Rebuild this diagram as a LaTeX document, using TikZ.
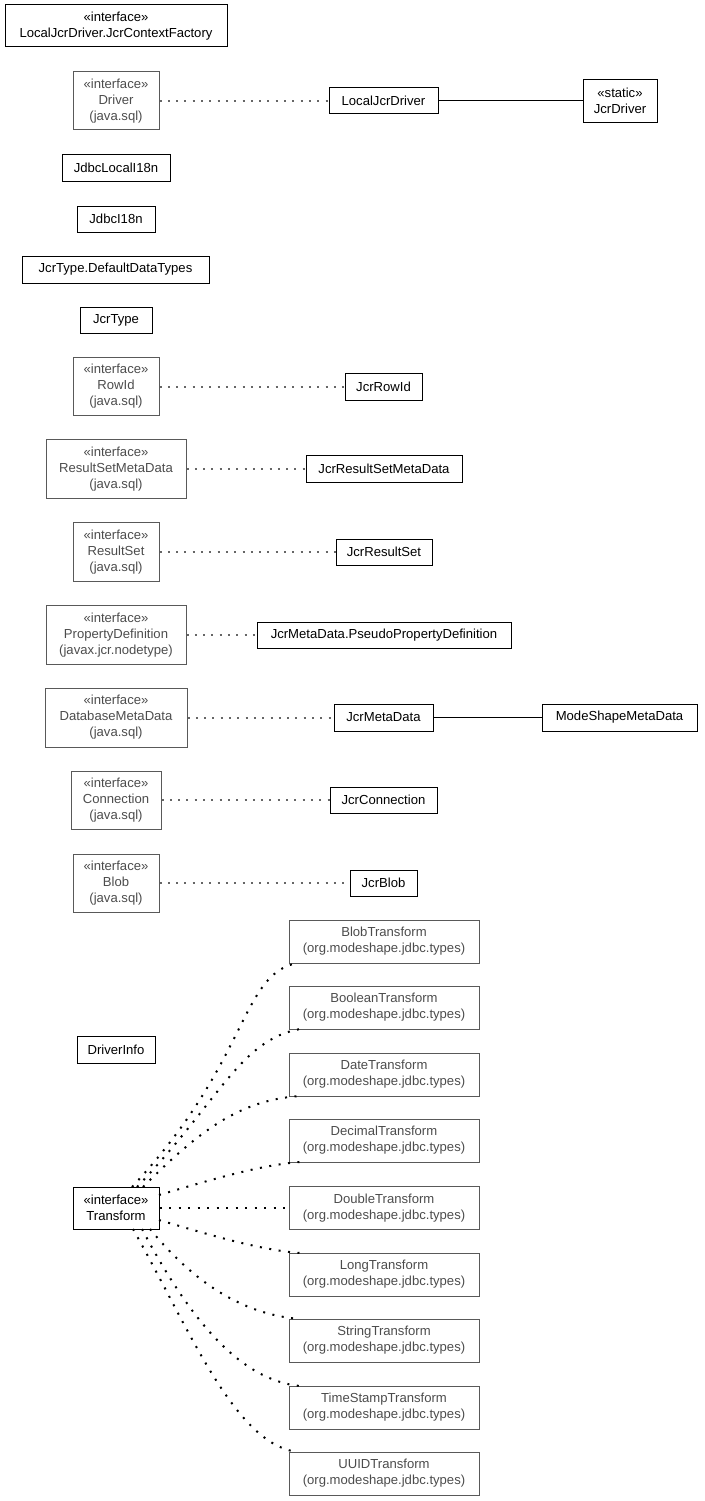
\documentclass[tikz,border=0pt]{standalone}
\usepackage{fontspec}
\setmainfont{Liberation Sans}
\begin{document}
\begin{tikzpicture}[x=1pt,y=-1pt,
  every node/.style={font=\fontsize{13.1}{16}\selectfont, inner sep=0pt, align=center},
  cls/.style={draw=black, line width=1pt, text=black},
  ext/.style={draw=black!65, line width=1pt, text=black!70},
  real/.style={draw=black!60, line width=2pt, dash pattern=on 2pt off 6.3pt},
  dep/.style={draw=black, line width=2pt, dash pattern=on 2pt off 7.5pt},
  assoc/.style={draw=black, line width=1pt}]
\useasboundingbox (0,0) rectangle (704,1501);
% top group
\node[cls, minimum width=222, minimum height=42] (ctxf) at (116,26) {«interface»\\LocalJcrDriver.JcrContextFactory};
\node[ext, minimum width=86, minimum height=58] (driver) at (116,101) {«interface»\\Driver\\(java.sql)};
\node[cls, minimum width=109, minimum height=26] (localjcr) at (383.5,101) {LocalJcrDriver};
\node[cls, minimum width=74, minimum height=43] (jcrdriver) at (620,101) {«static»\\JcrDriver};
\node[cls, minimum width=108, minimum height=27] (jdbclocal) at (116,167.5) {JdbcLocalI18n};
\node[cls, minimum width=78, minimum height=26] (jdbci18n) at (116,219) {JdbcI18n};
\node[cls, minimum width=187, minimum height=27] (defdt) at (115.5,269.5) {JcrType.DefaultDataTypes};
\node[cls, minimum width=72, minimum height=26] (jcrtype) at (116,320) {JcrType};
% interface realizations
\node[ext, minimum width=86, minimum height=58] (rowid) at (116,386.5) {«interface»\\RowId\\(java.sql)};
\node[cls, minimum width=77, minimum height=27] (jcrrowid) at (383.5,386.5) {JcrRowId};
\node[ext, minimum width=140, minimum height=59] (rsmd) at (116,469) {«interface»\\ResultSetMetaData\\(java.sql)};
\node[cls, minimum width=156, minimum height=27] (jcrrsmd) at (384,469) {JcrResultSetMetaData};
\node[ext, minimum width=86, minimum height=59] (rs) at (116,552) {«interface»\\ResultSet\\(java.sql)};
\node[cls, minimum width=96, minimum height=26] (jcrrs) at (384,552) {JcrResultSet};
\node[ext, minimum width=140, minimum height=59] (propdef) at (116,635) {«interface»\\PropertyDefinition\\(javax.jcr.nodetype)};
\node[cls, minimum width=254, minimum height=26] (pseudo) at (384,635) {JcrMetaData.PseudoPropertyDefinition};
\node[ext, minimum width=142, minimum height=59] (dbmd) at (116,717.5) {«interface»\\DatabaseMetaData\\(java.sql)};
\node[cls, minimum width=99, minimum height=27] (jcrmd) at (383.5,717.5) {JcrMetaData};
\node[cls, minimum width=155, minimum height=27] (msmd) at (619.5,717.5) {ModeShapeMetaData};
\node[ext, minimum width=90, minimum height=58] (conn) at (116,800) {«interface»\\Connection\\(java.sql)};
\node[cls, minimum width=107, minimum height=26] (jcrconn) at (383.5,800) {JcrConnection};
\node[ext, minimum width=86, minimum height=58] (blob) at (116,883) {«interface»\\Blob\\(java.sql)};
\node[cls, minimum width=67, minimum height=26] (jcrblob) at (383.5,883) {JcrBlob};
% transforms
\node[cls, minimum width=78, minimum height=27] (driverinfo) at (116,1049.5) {DriverInfo};
\node[cls, minimum width=86, minimum height=42] (transform) at (116,1208) {«interface»\\Transform};
\node[ext, minimum width=190, minimum height=43] (tblob) at (384,941.5) {BlobTransform\\(org.modeshape.jdbc.types)};
\node[ext, minimum width=190, minimum height=43] (tbool) at (384,1007.5) {BooleanTransform\\(org.modeshape.jdbc.types)};
\node[ext, minimum width=190, minimum height=43] (tdate) at (384,1074.5) {DateTransform\\(org.modeshape.jdbc.types)};
\node[ext, minimum width=190, minimum height=43] (tdec) at (384,1140.5) {DecimalTransform\\(org.modeshape.jdbc.types)};
\node[ext, minimum width=190, minimum height=43] (tdouble) at (384,1208) {DoubleTransform\\(org.modeshape.jdbc.types)};
\node[ext, minimum width=190, minimum height=43] (tlong) at (384,1274.5) {LongTransform\\(org.modeshape.jdbc.types)};
\node[ext, minimum width=190, minimum height=43] (tstring) at (384,1340.5) {StringTransform\\(org.modeshape.jdbc.types)};
\node[ext, minimum width=190, minimum height=43] (ttime) at (384,1407.5) {TimeStampTransform\\(org.modeshape.jdbc.types)};
\node[ext, minimum width=190, minimum height=43] (tuuid) at (384,1473.5) {UUIDTransform\\(org.modeshape.jdbc.types)};
% edges
\draw[real] (driver) -- (localjcr);
\draw[assoc] (localjcr) -- (jcrdriver);
\draw[real] (rowid) -- (jcrrowid);
\draw[real] (rsmd) -- (jcrrsmd);
\draw[real] (rs) -- (jcrrs);
\draw[real] (propdef) -- (pseudo);
\draw[real] (dbmd) -- (jcrmd);
\draw[assoc] (jcrmd) -- (msmd);
\draw[real] (conn) -- (jcrconn);
\draw[real] (blob) -- (jcrblob);
% transform dependencies
\coordinate (b1) at (132,1187);
\coordinate (b2) at (137,1187);
\coordinate (b3) at (143,1187);
\coordinate (b4) at (159,1195);
\coordinate (b6) at (159,1220);
\coordinate (b7) at (150,1229);
\coordinate (b8) at (142,1229);
\coordinate (b9) at (133,1229);
\coordinate (e1) at (297,963);
\coordinate (e2) at (300,1029);
\coordinate (e3) at (300,1096);
\coordinate (e4) at (300,1162);
\coordinate (e6) at (300,1253);
\coordinate (e7) at (300,1319);
\coordinate (e8) at (300,1386);
\coordinate (e9) at (298,1452);
\draw[dep] (b1) .. controls (250,1060) and (240,975) .. (e1);
\draw[dep] (b2) .. controls (220,1100) and (240,1040) .. (e2);
\draw[dep] (b3) .. controls (200,1130) and (240,1100) .. (e3);
\draw[dep] (b4) .. controls (210,1180) and (260,1165) .. (e4);
\draw[dep] (transform) -- (tdouble);
\draw[dep] (b6) .. controls (210,1235) and (260,1250) .. (e6);
\draw[dep] (b7) .. controls (200,1290) and (250,1315) .. (e7);
\draw[dep] (b8) .. controls (190,1320) and (240,1380) .. (e8);
\draw[dep] (b9) .. controls (190,1330) and (235,1445) .. (e9);
\end{tikzpicture}
\end{document}
